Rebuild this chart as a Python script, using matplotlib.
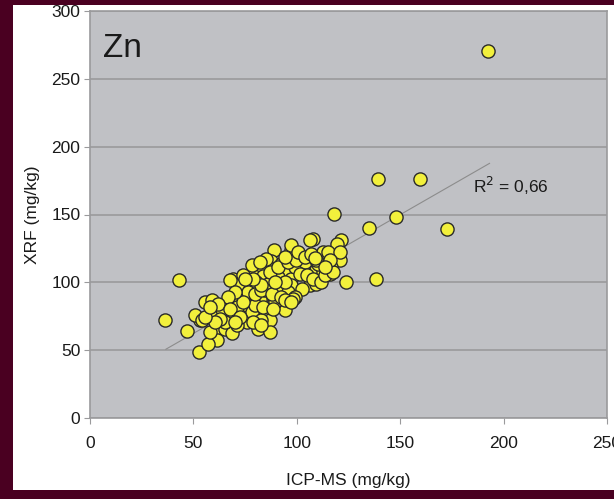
import numpy as np
import matplotlib
matplotlib.use('Agg')
import matplotlib.pyplot as plt
from matplotlib.patches import Rectangle

plt.rcParams['font.family'] = ['Liberation Sans', 'DejaVu Sans']

# ICP-MS vs XRF, Zn (mg/kg)
icp = [192.3, 159.4, 139.1, 147.8, 172.5, 134.8, 117.9, 138.3, 123.7, 43.0, 36.2, 47.0, 52.8,
       107.6, 121.6, 119.2, 89.0, 97.4, 98.2, 112.7, 108.7, 116.7, 120.8, 87.4, 92.6, 100.6, 113.5,
       78.1, 83.7, 88.6, 94.2, 102.3, 105.5, 109.5, 112.7, 116.0, 69.2, 75.7, 83.7, 91.0, 97.4,
       106.3, 109.5, 73.3, 80.5, 85.3, 90.2, 97.4, 94.2, 68.5, 64.4, 55.6, 59.6, 68.5, 73.3,
       75.7, 82.1, 84.5, 87.0, 81.3, 94.2, 89.4, 53.1, 50.7, 60.4, 65.2, 68.5, 61.2, 57.1,
       75.7, 71.7, 78.1, 99.0, 80.5, 86.1, 102.3, 66.8, 63.6, 70.9, 78.1, 82.9, 89.4, 79.7,
       71.7, 77.3, 84.5, 92.6, 95.8, 99.0, 87.0, 91.0, 95.8, 103.9, 110.3, 116.7, 115.1, 65.2,
       70.9, 58.0, 97.4, 106.3, 99.8, 58.8, 54.0, 67.6, 98.2,
       74.1, 76.5, 79.7, 82.9, 87.8, 92.6, 94.2, 97.4, 74.1, 70.0, 66.8, 62.0, 67.6, 72.5,
       70.0, 78.9, 83.7, 88.6, 101.4, 104.7, 107.9, 111.9, 94.2, 89.4, 82.9, 78.9, 74.9,
       100.6, 94.2, 85.3, 82.1, 103.9, 107.1, 109.5, 113.5, 117.5, 120.8, 86.9, 82.9, 62.8,
       60.4, 55.6, 58.0, 108.7, 115.9, 113.5]
xrf = [270.6, 176.5, 176.5, 148.5, 139.0, 139.7, 150.7, 102.5, 100.0, 101.5, 72.0, 64.2, 48.8,
       131.6, 130.9, 128.4, 123.5, 123.5, 118.6, 122.3, 117.4, 117.4, 116.2, 115.4, 113.7, 115.0, 112.5,
       107.6, 111.3, 110.0, 107.6, 110.0, 106.4, 108.8, 107.6, 106.4, 102.2, 101.5, 105.0, 103.9, 102.7,
       97.8, 99.0, 95.4, 92.9, 91.7, 94.1, 97.8, 90.4, 85.5, 83.1, 85.5, 77.0, 77.0, 78.2,
       70.8, 88.0, 78.2, 72.1, 65.9, 79.4, 88.0, 72.1, 75.7, 65.9, 65.9, 62.3, 57.4, 54.9,
       83.1, 89.2, 112.5, 111.3, 100.2, 99.0, 95.4, 73.3, 80.6, 81.8, 78.2, 72.1, 85.5, 83.1,
       97.8, 95.4, 94.1, 95.4, 92.9, 89.2, 107.6, 111.3, 115.0, 115.0, 113.7, 111.3, 122.3, 70.8,
       68.4, 63.5, 127.2, 131.4, 116.2, 86.8, 72.0, 101.5, 88.0,
       105.2, 92.9, 91.7, 94.1, 91.7, 89.2, 86.8, 85.5, 85.5, 92.9, 89.2, 84.3, 80.6, 74.5,
       70.9, 70.9, 81.9, 80.6, 106.4, 105.2, 102.7, 100.2, 100.2, 100.2, 97.8, 102.7, 102.7,
       122.3, 118.6, 117.4, 115.0, 118.6, 121.1, 116.2, 105.2, 107.6, 122.3, 63.5, 68.4, 73.3,
       70.9, 74.5, 81.9, 117.6, 116.2, 111.3]

trend_x = [36.7, 193.2]
trend_y = [50.7, 187.7]
r2_label = 'R$^2$ = 0,66'

fig = plt.figure(figsize=(6.14, 4.99), dpi=100, facecolor='white')
ax = fig.add_axes([90/614, 1 - 418/499, 517/614, 407/499])
ax.set_facecolor('#c0c1c5')

ax.set_xlim(0, 250); ax.set_ylim(0, 300)
ax.set_xticks(np.arange(0, 251, 50)); ax.set_yticks(np.arange(0, 301, 50))
ax.grid(axis='y', color='#9a9a9c', lw=1.2); ax.set_axisbelow(True)
for s in ax.spines.values():
    s.set_color('#9a9a9c'); s.set_linewidth(1.2)
ax.tick_params(axis='both', colors='#9a9a9c', labelcolor='#1a1a1a', labelsize=12.5, length=4, direction='out')
ax.tick_params(axis='x', pad=9)
ax.tick_params(axis='y', pad=3)

ax.plot(trend_x, trend_y, color='#8c8c8c', lw=0.8, zorder=2)
ax.scatter(icp, xrf, s=90, c='#f2f03c', edgecolors='#2a2a2a', linewidths=1.0, zorder=3)

ax.text(185, 171, r2_label, fontsize=12.5, color='#1a1a1a', va='center', ha='left')
ax.text(6.5, 272, 'Zn', fontsize=24, color='#1a1a1a', va='center', ha='left')

ax.set_xlabel('ICP-MS (mg/kg)', fontsize=12.5, color='#1a1a1a', labelpad=16)
ax.set_ylabel('XRF (mg/kg)', fontsize=12.5, color='#1a1a1a', labelpad=8)

# dark frame around the white panel
maroon = '#4a0021'
for x0, y0, w, h in [(0, 0, 13/614, 1), (0, 1 - 5/499, 1, 5/499), (0, 0, 1, 9/499)]:
    fig.patches.append(Rectangle((x0, y0), w, h, transform=fig.transFigure,
                                 facecolor=maroon, edgecolor='none', zorder=10))

fig.savefig('out.png', dpi=100, facecolor=fig.get_facecolor())
